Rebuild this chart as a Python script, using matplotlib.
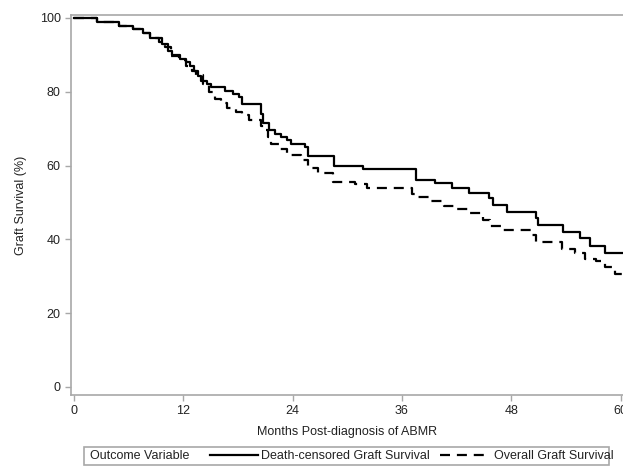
import matplotlib as mpl
mpl.use('Agg')
import matplotlib.pyplot as plt
from matplotlib.lines import Line2D
from matplotlib.patches import Rectangle

plt.rcParams['font.family'] = ['Liberation Sans', 'DejaVu Sans']
plt.rcParams['font.size'] = 9

# Death-censored graft survival: step times (months) and survival (%)
dc_months = [0, 2.6, 5.0, 6.5, 7.6, 8.4, 9.7, 10.3, 10.8, 11.7, 12.3, 12.8, 13.2,
             13.6, 14.0, 14.6, 15.0, 16.6, 17.5, 18.1, 18.5, 20.5, 20.8, 21.4,
             22.1, 22.7, 23.4, 23.8, 25.4, 25.7, 28.5, 31.7, 37.5, 39.6, 41.5,
             43.3, 45.5, 46.0, 47.5, 50.7, 50.9, 53.7, 55.5, 56.6, 58.3, 60.3]
dc_surv = [100, 98.8, 97.8, 97.0, 96.0, 94.5, 92.9, 91.1, 90.0, 88.9, 88.0, 87.0, 85.7,
           84.3, 83.0, 82.2, 81.4, 80.3, 79.4, 78.5, 76.8, 74.0, 71.4, 69.5,
           68.6, 67.6, 66.8, 65.9, 64.9, 62.7, 60.0, 59.0, 56.2, 55.2, 53.9,
           52.6, 51.1, 49.2, 47.5, 45.7, 43.8, 42.0, 40.3, 38.1, 36.3, 36.3]

# Overall graft survival
ov_months = [0, 2.6, 5.0, 6.5, 7.6, 8.4, 9.4, 10.0, 10.7, 11.5, 12.3, 13.0, 13.4,
             14.2, 14.8, 15.5, 16.2, 16.8, 17.8, 18.4, 19.2, 20.5, 20.9, 21.3,
             21.6, 22.5, 23.4, 24.9, 25.7, 26.8, 28.4, 30.8, 32.2, 37.1, 37.6,
             39.2, 40.6, 41.9, 43.3, 44.9, 45.6, 47.1, 50.2, 50.7, 53.6, 55.0,
             56.1, 57.3, 58.3, 59.4, 60.3]
ov_surv = [100, 98.8, 97.8, 97.0, 96.0, 94.5, 93.5, 92.0, 89.8, 88.5, 87.0, 85.5, 84.6,
           82.2, 80.0, 78.0, 77.0, 75.7, 74.6, 73.8, 72.4, 70.8, 69.5, 67.6,
           65.9, 64.6, 62.8, 61.4, 59.2, 58.1, 55.6, 54.9, 53.8, 52.4, 51.4,
           50.3, 48.9, 48.1, 47.1, 45.1, 43.6, 42.4, 41.1, 39.3, 37.3, 36.3,
           34.6, 34.0, 32.4, 30.5, 30.5]

x_ticks = [0, 12, 24, 36, 48, 60]
y_ticks = [0, 20, 40, 60, 80, 100]

W, H = 623, 466
DASH = (4.5, 3.1)
fig = plt.figure(figsize=(W / 100, H / 100), dpi=100)
ax = fig.add_axes([71 / W, (H - 395) / H, 553 / W, 380 / H])

ax.plot(dc_months, dc_surv, drawstyle='steps-post', color='black', lw=1.6)
ax.plot(ov_months, ov_surv, drawstyle='steps-post', color='black', lw=1.6, dashes=DASH)

ax.set_xlim(-0.3, 60.35)
ax.set_ylim(-2.2, 100.8)
ax.set_xticks(x_ticks)
ax.set_yticks(y_ticks)
for s in ax.spines.values():
    s.set_color('#a8a8a8')
    s.set_linewidth(1.2)
ax.tick_params(colors='#a8a8a8', labelcolor='#222222', length=4, width=1)
ax.set_xlabel('Months Post-diagnosis of ABMR', color='#222222', labelpad=6)
ax.set_ylabel('Graft Survival (%)', color='#222222', labelpad=9)

# legend box along the bottom
fig.patches.append(Rectangle((84 / W, 1.5 / H), 525 / W, 17.5 / H, transform=fig.transFigure,
                             fill=False, edgecolor='#a8a8a8', lw=1.2))
fig.text(90 / W, 10 / H, 'Outcome Variable', va='center', ha='left', color='#222222')
h1 = Line2D([], [], color='black', lw=1.6)
h2 = Line2D([], [], color='black', lw=1.6, dashes=DASH)
fig.legend([h1], ['Death-censored Graft Survival'],
           loc='center left', bbox_to_anchor=(210 / W, 10 / H), frameon=False,
           handlelength=3.8, handletextpad=0.3, borderpad=0,
           borderaxespad=0, labelcolor='#222222')
fig.legend([h2], ['Overall Graft Survival'],
           loc='center left', bbox_to_anchor=(440 / W, 10 / H), frameon=False,
           handlelength=3.5, handletextpad=0.85, borderpad=0,
           borderaxespad=0, labelcolor='#222222')

fig.savefig('out.png', dpi=100)
